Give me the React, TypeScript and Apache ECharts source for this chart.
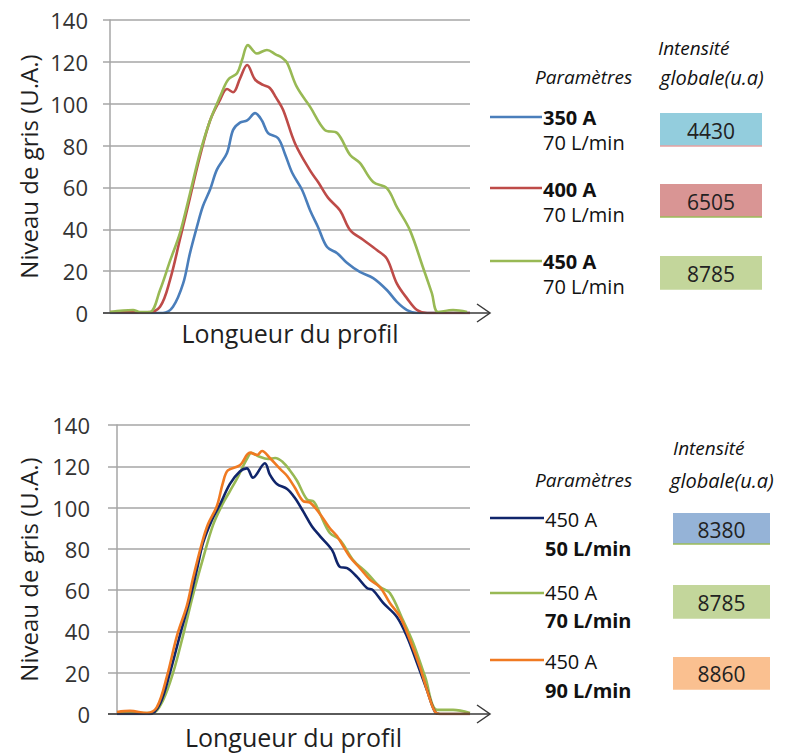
import React, { useEffect, useRef } from "react";
import * as echarts from "echarts";

// ---- data (x = position along profile, 0..100 ; y = grey level) ----
const yTicks = { min: 0, max: 140, step: 20 };

const top350A70: [number, number][] = [[0,0],[14.7,0],[17.5,3],[20.3,14],[22.2,28.5],[24.2,41.5],[25.8,51],[27.8,59],[29.7,68.5],[32.5,76.5],[34.2,87.5],[36.1,91],[38.1,92],[40.3,95.5],[42.2,92],[43.9,86],[46.7,83.5],[48.6,76],[50.6,67],[53.3,59],[55.6,49],[57.8,41],[60.3,31.5],[63.1,28.6],[65.8,24],[69.4,19.6],[73.1,16.7],[76.9,11],[79.7,5.3],[82.5,1.4],[85.3,0],[100,0]];
const top400A70: [number, number][] = [[0,0.5],[10.3,0.3],[13.9,3],[16.7,16],[19.4,35],[22.2,55],[25,75],[27.8,92],[30.6,102],[32.5,107],[34.2,105.5],[36.1,112],[38.1,118.5],[40.3,111.5],[42.5,109],[44.4,107.5],[46.1,103],[48.1,97],[51.4,81],[55.6,68],[57.8,62.6],[60.6,55],[63.9,49],[66.7,39.6],[70.3,35],[74.2,30],[76.9,26],[79.7,14],[82.5,7],[85.3,1.4],[88.1,0],[100,0]];
const top450A70: [number, number][] = [[0,0.5],[6.4,1.4],[8.3,0.5],[11.1,0.5],[13.9,11],[16.7,25],[19.4,38],[22.2,57],[25,76.5],[27.8,92],[30.6,103.5],[32.8,111.5],[35.3,114.6],[36.7,121],[38.3,128],[40.8,124],[43.6,125.7],[46.1,123.5],[47.8,122],[49.2,119.5],[51.9,108],[55.6,98.5],[59.7,87.4],[63.1,86],[66.7,75.5],[69.4,71.7],[73.1,62.6],[76.9,59.7],[79.7,50.6],[83.3,39.6],[86.9,22],[89.4,9.5],[91.1,0.5],[95.3,1.4],[99.2,0.5]];

const bot450A50: [number, number][] = [[0,0],[9.3,0],[12.2,5],[15,20],[17.8,38],[20.7,56],[22.7,70.5],[24.4,83],[26.9,94],[29.2,101.6],[32,111.5],[34.8,117.5],[36.8,119],[38.5,114.5],[41.9,121.5],[43.3,116],[45.3,111.4],[48.2,109],[50.4,104.6],[52.7,98.3],[55.2,91],[57.5,86.2],[60.9,79.5],[63.2,71.2],[65.2,70.7],[68,66.4],[70.8,61],[72.5,60],[75.4,53.8],[79.3,47],[82.2,37.3],[85,24.7],[87.8,11.6],[90.1,1],[91.5,0],[100,0]];
const bot450A70: [number, number][] = [[0,0.5],[8.5,0.5],[10.2,0.5],[13,6.5],[15.9,20],[18.7,38],[21.5,57.5],[24.4,75.5],[27.2,91.5],[30,102],[32,108],[34.3,115],[35.7,120],[37.1,124.5],[38,126.5],[39.9,125],[42.8,123.5],[44.8,124],[47,122],[49,118],[51,113],[53.8,104],[55.8,102.8],[57.5,97],[60.3,87.7],[63.2,84.3],[66.9,74.6],[70.8,68.3],[74.5,61.5],[77.3,58.6],[81,45.5],[83.9,34.4],[87.3,17.9],[90.7,2],[95.2,2],[100,0.5]];
const bot450A90: [number, number][] = [[0,1],[3.7,1.5],[8.5,0.5],[11.3,3.3],[14.2,18.6],[17,38],[19.8,52.5],[21.5,65.5],[24.1,83],[25.8,92],[28.3,100.8],[30,112],[31.4,118],[34.8,120.5],[37.7,126.6],[39.7,125.5],[41.1,127.4],[43.3,124],[46.2,118.7],[48.2,115.3],[50.4,109.6],[52.7,103.2],[54.7,102.4],[57.5,96.9],[60.3,90],[62.3,86.2],[66,76],[68.8,70.7],[71.7,65],[74.5,61.5],[77.3,53.8],[80.2,47],[83,35.8],[85.8,22.8],[88.1,10],[90.1,1],[91.5,0],[100,0]];

const topCurrents = ["350 A", "400 A", "450 A"];
const topFlows = ["70 L/min", "70 L/min", "70 L/min"];
const topIntensity = [4430, 6505, 8785];
const botCurrents = ["450 A", "450 A", "450 A"];
const botFlows = ["50 L/min", "70 L/min", "90 L/min"];
const botIntensity = [8380, 8785, 8860];

const FONT = "'Open Sans', sans-serif";
const TOP_COLORS = ["#4A7EBB", "#BE4B48", "#98B954"];
const BOT_COLORS = ["#10256B", "#98B954", "#F07A22"];
const TOP_BOX = ["#93CDDD", "#D99594", "#C3D69B"];
const BOT_BOX = ["#95B3D7", "#C3D69B", "#FAC090"];
const TOP_BOX_EDGE = ["#E6A0A0", "#9BBB59", "#C3D69B"];
const BOT_BOX_EDGE = ["#9BBB59", "#C3D69B", "#FAC090"];

export default function App() {
  const ref = useRef<HTMLDivElement>(null);
  useEffect(() => {
    if (!ref.current) return;
    const chart = echarts.init(ref.current, undefined, { renderer: "svg" });
    const grids = [
      { left: 110, top: 20, width: 360, height: 293 },
      { left: 117, top: 425, width: 353, height: 289 },
    ];
    const gray = "#A6A6A6";
    const xAxis = grids.map((_, i) => ({
      gridIndex: i,
      type: "value",
      min: 0,
      max: 100,
      axisLine: { show: false },
      axisTick: { show: false },
      axisLabel: { show: false },
      splitLine: { show: false },
      name: "Longueur du profil",
      nameLocation: "middle",
      nameGap: i === 0 ? 7 : 10,
      nameTextStyle: { fontFamily: FONT, fontSize: 25, color: "#1F1F1F" },
    }));
    const yAxis = grids.map((_, i) => ({
      gridIndex: i,
      type: "value",
      min: yTicks.min,
      max: yTicks.max,
      interval: yTicks.step,
      axisLine: { show: true, lineStyle: { color: gray, width: 1.5 } },
      axisTick: { show: true, length: i === 0 ? 7 : 9, lineStyle: { color: gray, width: 1.5 } },
      axisLabel: { fontFamily: FONT, fontSize: 22, color: "#333333", margin: i === 0 ? 22 : 27 },
      splitLine: { lineStyle: { color: gray, width: 1.5 } },
      name: "Niveau de gris (U.A.)",
      nameLocation: "middle",
      nameRotate: 90,
      nameGap: i === 0 ? 70 : 77,
      nameTextStyle: { fontFamily: FONT, fontSize: 24, color: "#1F1F1F" },
    }));
    const mk = (name: string, data: [number, number][], color: string, gi: number) => ({
      type: "line",
      name,
      data,
      xAxisIndex: gi,
      yAxisIndex: gi,
      showSymbol: false,
      smooth: 0.35,
      lineStyle: { color, width: 2.6 },
      itemStyle: { color },
    });
    const series = [
      mk("350 A 70 L/min", top350A70, TOP_COLORS[0], 0),
      mk("400 A 70 L/min", top400A70, TOP_COLORS[1], 0),
      mk("450 A 70 L/min", top450A70, TOP_COLORS[2], 0),
      mk("450 A 70 L/min (b)", bot450A70, BOT_COLORS[1], 1),
      mk("450 A 50 L/min", bot450A50, BOT_COLORS[0], 1),
      mk("450 A 90 L/min", bot450A90, BOT_COLORS[2], 1),
    ];

    const graphic: any[] = [];
    // x axis lines with open arrow
    const axisY = [313, 714];
    const axisX0 = [103, 108];
    axisY.forEach((y, i) => {
      graphic.push({ type: "line", shape: { x1: axisX0[i], y1: y, x2: 490, y2: y }, style: { stroke: "#3A3A3A", lineWidth: 1.5 }, z: 10 });
      graphic.push({ type: "polyline", shape: { points: [[477, y - 9], [490, y], [477, y + 9]] }, style: { stroke: "#3A3A3A", lineWidth: 1.5, fill: null }, z: 10 });
    });

    const txt = (x: number, y: number, text: string, opts: any = {}) => {
      const size = opts.size || 19;
      return {
        type: "text",
        x,
        y,
        style: {
          text,
          fontFamily: FONT,
          fontSize: size,
          lineHeight: size,
          fontWeight: opts.bold ? "bold" : "normal",
          fontStyle: opts.italic ? "italic" : "normal",
          fill: opts.color || "#111111",
          align: opts.align || "left",
          verticalAlign: "middle",
        },
        z: 10,
      };
    };

    const legend = (
      baseY: number,
      headY: number,
      currents: string[],
      flows: string[],
      values: number[],
      colors: string[],
      boxes: string[],
      edges: string[],
      rows: { line: number; t1: number; t2: number; b0: number; b1: number }[],
      boxX0: number,
      boxX1: number,
      textX: number,
      boldFirst: boolean,
      intX: number,
      globX: number
    ) => {
      graphic.push(txt(intX, headY, "Intensité", { italic: true, size: 19 }));
      graphic.push(txt(535, baseY, "Paramètres", { italic: true, size: 19 }));
      graphic.push(txt(globX, baseY, "globale(u.a)", { italic: true, size: 20 }));
      rows.forEach((r, k) => {
        graphic.push({ type: "line", shape: { x1: 490, y1: r.line, x2: textX - 1, y2: r.line }, style: { stroke: colors[k], lineWidth: 2.5 }, z: 10 });
        graphic.push(txt(textX, r.t1, currents[k], { bold: boldFirst, size: 20 }));
        graphic.push(txt(textX, r.t2, flows[k], { bold: !boldFirst, size: 20 }));
        graphic.push({ type: "rect", shape: { x: boxX0, y: r.b0, width: boxX1 - boxX0, height: r.b1 - r.b0 }, style: { fill: boxes[k] }, z: 10 });
        graphic.push({ type: "line", shape: { x1: boxX0, y1: r.b1, x2: boxX1, y2: r.b1 }, style: { stroke: edges[k], lineWidth: 1.5 }, z: 11 });
        graphic.push(txt((boxX0 + boxX1) / 2, (r.b0 + r.b1) / 2 + 1, String(values[k]), { size: 21, align: "center", color: "#222222" }));
      });
    };

    legend(
      77, 48, topCurrents, topFlows, topIntensity, TOP_COLORS, TOP_BOX, TOP_BOX_EDGE,
      [
        { line: 117, t1: 117, t2: 142, b0: 113, b1: 146 },
        { line: 188, t1: 189, t2: 214, b0: 184, b1: 217 },
        { line: 261, t1: 261, t2: 286, b0: 256, b1: 289 },
      ],
      660, 762, 543, true, 658, 660
    );
    legend(
      480, 448, botCurrents, botFlows, botIntensity, BOT_COLORS, BOT_BOX, BOT_BOX_EDGE,
      [
        { line: 518, t1: 519, t2: 548, b0: 513, b1: 544 },
        { line: 593, t1: 592, t2: 620, b0: 585, b1: 618 },
        { line: 660, t1: 661, t2: 690, b0: 657, b1: 689 },
      ],
      673, 770, 545, false, 673, 670
    );

    chart.setOption({
      animation: false,
      backgroundColor: "#FFFFFF",
      grid: grids,
      xAxis,
      yAxis,
      series,
      graphic,
    } as any);
    return () => chart.dispose();
  }, []);
  return (
    <div
      ref={ref}
      style={{ position: "fixed", left: 0, top: 0, width: 791, height: 753, background: "#fff" }}
    />
  );
}
